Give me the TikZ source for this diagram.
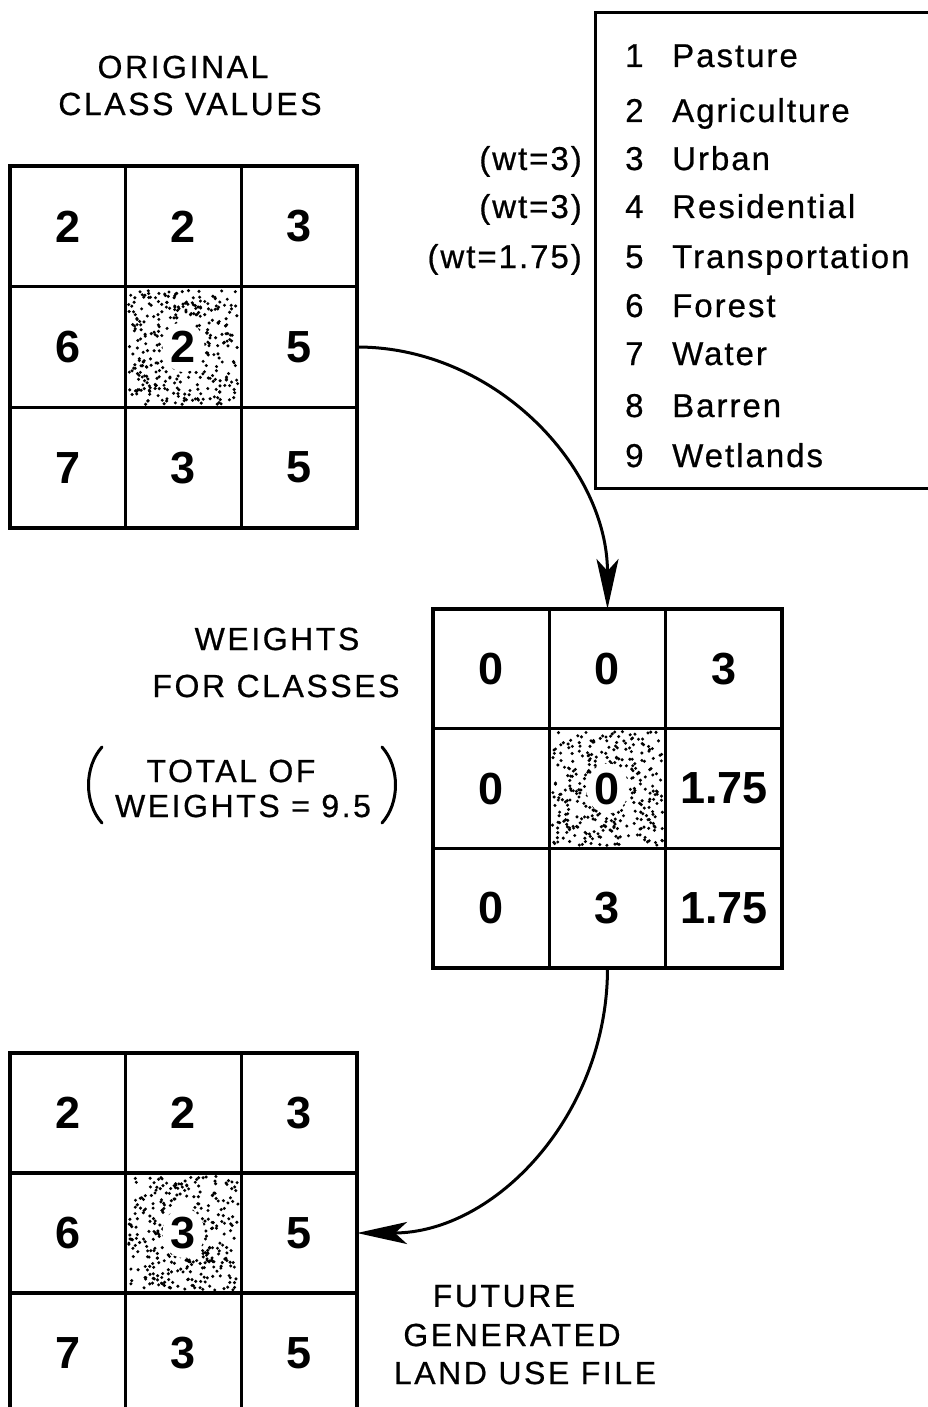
\documentclass[tikz,border=0pt]{standalone}
\usepackage{fontspec}
\setmainfont{Liberation Sans}
\newfontfamily\lblfont{Liberation Sans}[LetterSpace=8,FakeBold=0.6]
\newfontfamily\lgdfont{Liberation Sans}[LetterSpace=6,FakeBold=0.6]
\usetikzlibrary{arrows.meta,backgrounds}
\begin{document}
\begin{tikzpicture}[x=1pt,y=-1pt,
  cellbox/.style={draw, line width=3.2pt, inner sep=0pt, outer sep=0pt,
    font=\fontsize{45}{45}\selectfont\bfseries},
  gA/.style={cellbox, minimum width=115.7pt, minimum height=120.7pt},
  gB/.style={cellbox, minimum width=116.3pt, minimum height=119.7pt},
  gC/.style={cellbox, minimum width=115.7pt, minimum height=120pt},
  title/.style={font=\lblfont\fontsize{32}{32}\selectfont, inner sep=0pt, anchor=center},
  lgd/.style={font=\lgdfont\fontsize{33}{33}\selectfont, inner sep=0pt},
  flow/.style={line width=3pt, -{Stealth[length=50pt,width=22pt,inset=12pt]}},
  paren/.style={line width=3pt, line cap=round}
]
\useasboundingbox (0,0) rectangle (928,1407);

% grids
\foreach \v [count=\i from 0] in {2,2,3,6,2,5,7,3,5} {
  \pgfmathtruncatemacro\r{div(\i,3)+1}
  \pgfmathtruncatemacro\c{mod(\i,3)+1}
  \node[gA] (g1-\r-\c) at ({10+115.67*(\c-0.5)},{166+120.67*(\r-0.5)}) {\v};
}
\foreach \v [count=\i from 0] in {0,0,3,0,0,1.75,0,3,1.75} {
  \pgfmathtruncatemacro\r{div(\i,3)+1}
  \pgfmathtruncatemacro\c{mod(\i,3)+1}
  \node[gB] (g2-\r-\c) at ({433+116.33*(\c-0.5)},{609+119.67*(\r-0.5)}) {\v};
}
\foreach \v [count=\i from 0] in {2,2,3,6,3,5,7,3,5} {
  \pgfmathtruncatemacro\r{div(\i,3)+1}
  \pgfmathtruncatemacro\c{mod(\i,3)+1}
  \node[gC] (g3-\r-\c) at ({10+115.67*(\c-0.5)},{1053+120*(\r-0.5)}) {\v};
}

% stipple in centre cells
\begin{scope}[on background layer]
\pgfmathsetseed{7}
\foreach \g/\w/\h in {g1-2-2/115.7/120.7, g2-2-2/116.3/119.7, g3-2-2/115.7/120} {
  \foreach \k in {1,...,360} {
    \pgfmathsetmacro\dx{(rnd-0.5)*(\w-6)}
    \pgfmathsetmacro\dy{(rnd-0.5)*(\h-6)}
    \fill (\g) ++(\dx,\dy) circle (1.7pt);
  }
  \fill[white] (\g) ellipse (21 and 25);
}
\end{scope}

% titles
\node[title] (t1a) at (183,67) {ORIGINAL};
\node[title] (t1b) at (190,104) {CLASS VALUES};
\node[title] (t2a) at (277,639) {WEIGHTS};
\node[title] (t2b) at (276,686) {FOR CLASSES};
\node[title] (t2c) at (231,771) {TOTAL OF};
\node[title] (t2d) at (243,806) {WEIGHTS = 9.5};
\node[title] (t3a) at (504,1296) {FUTURE};
\node[title] (t3b) at (512,1335) {GENERATED};
\node[title] (t3c) at (525,1373) {LAND USE FILE};

% parentheses
\draw[paren] (102,747) .. controls (84,767) and (84,803) .. (102,823);
\draw[paren] (382,747) .. controls (400,767) and (400,803) .. (382,823);

% legend
\draw[line width=3pt] (595,13) rectangle (945,488);
\foreach \n/\t/\y in {1/Pasture/67, 2/Agriculture/122, 3/Urban/170, 4/Residential/218,
  5/Transportation/268, 6/Forest/317, 7/Water/365, 8/Barren/417, 9/Wetlands/467} {
  \node[lgd, anchor=base west] (ln\n) at (625,\y) {\n};
  \node[lgd, anchor=base west] (lt\n) at (672,\y) {\t};
}
\node[lgd, anchor=base east] (w3) at (582,170) {(wt=3)};
\node[lgd, anchor=base east] (w4) at (582,218) {(wt=3)};
\node[lgd, anchor=base east] (w5) at (582,268) {(wt=1.75)};

% connectors
\draw[flow] (g1-2-3.east) .. controls +(138,0) and +(0,-142) .. (g2-1-2.north);
\draw[flow] (g2-3-2.south) .. controls +(0,147) and +(138,0) .. (g3-2-3.east);
\end{tikzpicture}
\end{document}
